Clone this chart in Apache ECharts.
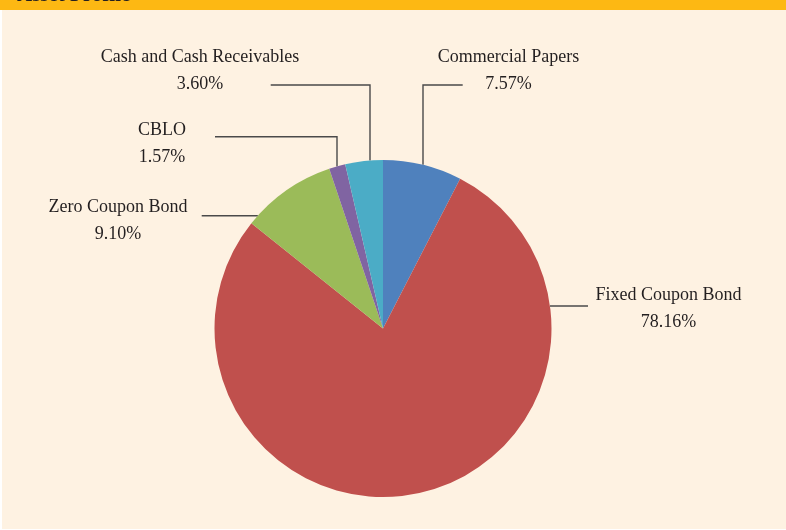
<!DOCTYPE html>
<html>
<head>
<meta charset="utf-8">
<title>Asset Profile</title>
<script src="https://cdn.jsdelivr.net/npm/echarts@6/dist/echarts.min.js"></script>
<style>
  html, body { margin: 0; padding: 0; background: #ffffff; }
  #chart { width: 786px; height: 530px; }
</style>
</head>
<body>
<div id="chart"></div>
<script>
// data
const categories = ['Commercial Papers', 'Fixed Coupon Bond', 'Zero Coupon Bond', 'CBLO', 'Cash and Cash Receivables'];
const shares = [7.57, 78.16, 9.10, 1.57, 3.60];

// look
const sliceColors = ['#4F81BD', '#C0504D', '#9BBB59', '#8064A2', '#4BACC6'];
const cx = 383, cy = 328.5, R = 168.5;

// where each label sits and how its leader line runs
// kind 'up': vertical from pie edge at x=lx up to y=ly, then across to x=ex
// kind 'side': horizontal at y=ly from pie edge out to x=ex
const spots = [
  { tx: 508.5, ty: 70.5, kind: 'up', lx: 423, ly: 85, ex: 462.7 },
  { tx: 668.5, ty: 309, kind: 'side', ly: 306, ex: 588 },
  { tx: 118, ty: 220.5, kind: 'side', ly: 215.7, ex: 201.7 },
  { tx: 162, ty: 143.5, kind: 'up', lx: 337, ly: 136.7, ex: 215 },
  { tx: 200, ty: 70.5, kind: 'up', lx: 370, ly: 85, ex: 270.7 }
];

function edgeY(x) { return cy - Math.sqrt(R * R - (x - cx) * (x - cx)); }
function edgeX(y, side) { return cx + side * Math.sqrt(R * R - (y - cy) * (y - cy)); }

let chart = echarts.init(document.getElementById('chart'), null, { renderer: 'canvas' });

const option = {
  animation: false,
  backgroundColor: '#ffffff',
  graphic: [
    { type: 'rect', silent: true, z: -10, shape: { x: 2, y: 10, width: 784, height: 519 }, style: { fill: '#FEF2E2' } },
    { type: 'rect', silent: true, z: -9, shape: { x: 0, y: 0, width: 786, height: 10 }, style: { fill: '#FDB813' } },
    {
      type: 'text', silent: true, z: 5, x: 17, y: 6,
      style: {
        text: 'Asset Profile',
        font: 'bold 21px "Liberation Serif", serif',
        fill: '#231F20',
        verticalAlign: 'bottom'
      }
    }
  ],
  series: [{
    type: 'pie',
    center: [cx, cy],
    radius: R,
    startAngle: 90,
    clockwise: true,
    silent: true,
    avoidLabelOverlap: false,
    itemStyle: { borderWidth: 0 },
    label: {
      show: true,
      position: 'outside',
      fontFamily: '"Liberation Serif", serif',
      fontSize: 18,
      lineHeight: 27,
      color: '#231F20',
      align: 'center',
      formatter: p => p.name + '\n' + shares[p.dataIndex].toFixed(2) + '%'
    },
    labelLine: { show: true, smooth: false, lineStyle: { color: '#4A4A4A', width: 1.4 } },
    labelLayout: function (params) {
      const s = spots[params.dataIndex];
      let pts;
      if (s.kind === 'up') {
        pts = [[s.lx, edgeY(s.lx)], [s.lx, s.ly], [s.ex, s.ly]];
      } else {
        const side = s.ex > cx ? 1 : -1;
        pts = [[edgeX(s.ly, side), s.ly], [s.ex, s.ly]];
      }
      return {
        x: s.tx,
        y: s.ty,
        align: 'center',
        verticalAlign: 'middle',
        labelLinePoints: pts
      };
    },
    data: categories.map((name, i) => ({
      name: name,
      value: shares[i],
      itemStyle: { color: sliceColors[i] }
    }))
  }]
};

chart.setOption(option);
</script>
</body>
</html>
